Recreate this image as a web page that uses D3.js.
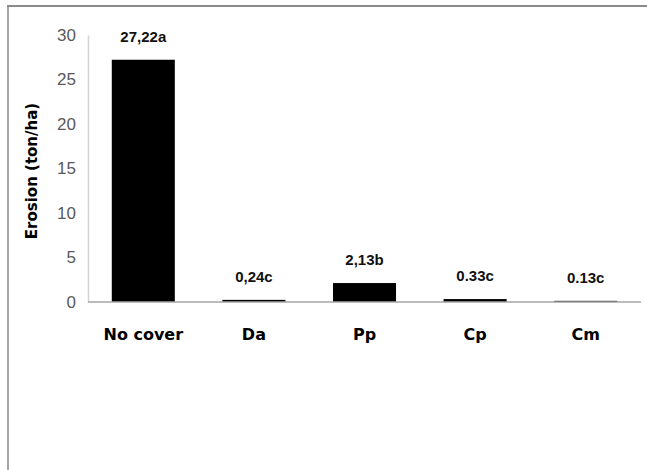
<!DOCTYPE html>
<html>
<head>
<meta charset="utf-8">
<script src="https://cdn.jsdelivr.net/npm/d3@7"></script>
<style>
html, body { margin: 0; padding: 0; background: #fff; }
svg { display: block; }
</style>
</head>
<body>
<svg id="chart" width="647" height="470"></svg>
<script>
const categories = ["No cover", "Da", "Pp", "Cp", "Cm"];
const values = [27.22, 0.24, 2.13, 0.33, 0.13];
const valueLabels = ["27,22a", "0,24c", "2,13b", "0.33c", "0.13c"];
const yTicks = [0, 5, 10, 15, 20, 25, 30];
const yTitle = "Erosion (ton/ha)";

const svg = d3.select("#chart");

// outer frame (top and left edges only, as in the reference)
svg.append("line").attr("x1", 7).attr("x2", 647).attr("y1", 6).attr("y2", 6)
  .attr("stroke", "#8a8a8a").attr("stroke-width", 2);
svg.append("line").attr("x1", 8).attr("x2", 8).attr("y1", 6).attr("y2", 470)
  .attr("stroke", "#8a8a8a").attr("stroke-width", 1.5);

const x = d3.scaleBand().domain(categories).range([88, 641]).paddingInner(0.43).paddingOuter(0.215);
const y = d3.scaleLinear().domain([0, 30]).range([302, 35]);

// y axis
const yAxis = d3.axisLeft(y).tickValues(yTicks).tickSize(0).tickPadding(12).tickFormat(d3.format("d"));
const gy = svg.append("g").attr("transform", "translate(88,0)").call(yAxis);
gy.select(".domain").attr("stroke", "#d4d4d4").attr("stroke-width", 1.5);
gy.selectAll("text")
  .attr("fill", "#595959")
  .style("font-family", "'Liberation Sans', Arial, sans-serif")
  .style("font-size", "17px");

// bars
svg.append("g").selectAll("rect").data(values).join("rect")
  .attr("x", (d, i) => x(categories[i]))
  .attr("width", x.bandwidth())
  .attr("y", d => y(d))
  .attr("height", d => y(0) - y(d))
  .attr("fill", "#000");

// baseline
svg.append("line").attr("x1", 88).attr("x2", 641).attr("y1", y(0)).attr("y2", y(0))
  .attr("stroke", "#a6a6a6").attr("stroke-width", 1.5);

// value labels
svg.append("g").selectAll("text").data(values).join("text")
  .attr("x", (d, i) => x(categories[i]) + x.bandwidth() / 2)
  .attr("y", d => y(d) - 23)
  .attr("dy", "0.36em")
  .attr("text-anchor", "middle")
  .attr("fill", "#111")
  .style("font-family", "'Liberation Sans', Arial, sans-serif")
  .style("font-weight", "bold")
  .style("font-size", "15px")
  .text((d, i) => valueLabels[i]);

// category labels
svg.append("g").selectAll("text").data(categories).join("text")
  .attr("x", d => x(d) + x.bandwidth() / 2)
  .attr("y", 340)
  .attr("text-anchor", "middle")
  .attr("fill", "#000")
  .style("font-family", "'DejaVu Sans', sans-serif")
  .style("font-weight", "bold")
  .style("font-size", "16px")
  .text(d => d);

// y title
svg.append("text")
  .attr("transform", "translate(32,171) rotate(-90)")
  .attr("text-anchor", "middle")
  .attr("dy", "0.36em")
  .attr("fill", "#000")
  .style("font-family", "'DejaVu Sans', sans-serif")
  .style("font-weight", "bold")
  .style("font-size", "15px")
  .text(yTitle);
</script>
</body>
</html>
